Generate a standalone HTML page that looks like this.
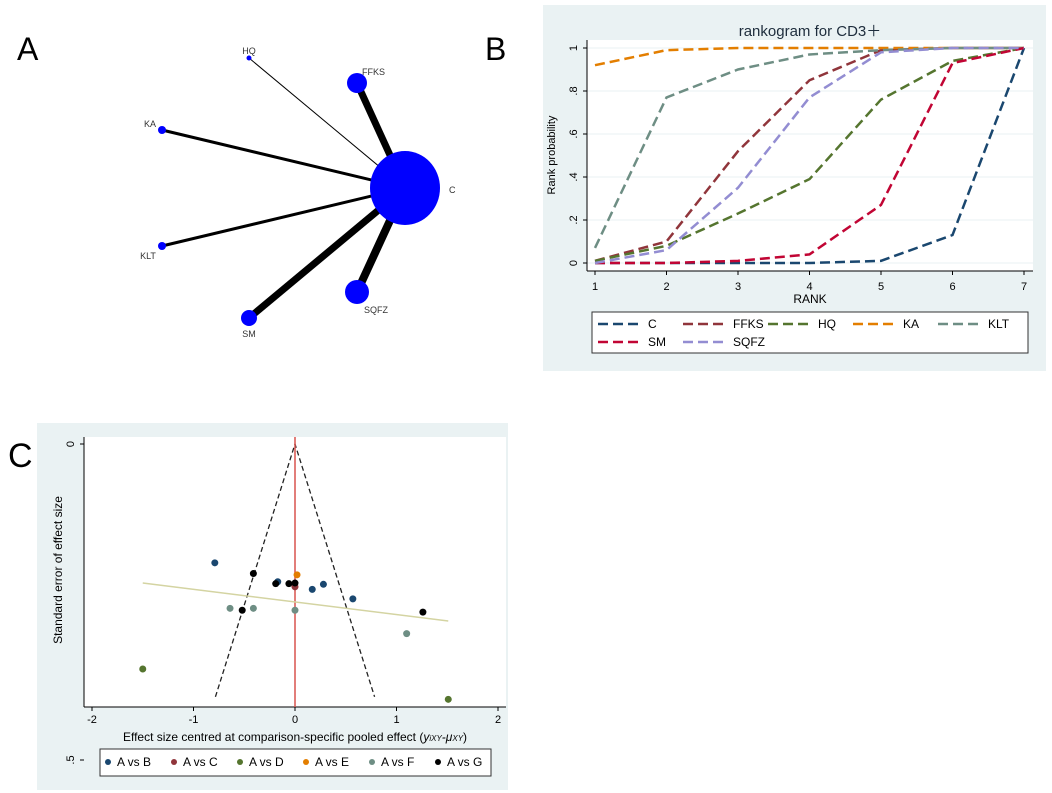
<!DOCTYPE html>
<html><head><meta charset="utf-8"><style>
body{margin:0;background:#fff;font-family:"Liberation Sans",sans-serif;}
svg{display:block}
</style></head><body>
<svg id="s" width="1052" height="793" xmlns="http://www.w3.org/2000/svg" font-family="Liberation Sans, sans-serif">
<text x="17" y="60" font-size="32">A</text>
<text x="485" y="60" font-size="32">B</text>
<text x="8" y="467" font-size="34">C</text>
<g id="net"></g>
<rect x="543" y="5" width="503" height="366" fill="#eaf2f3"/>
<rect x="587" y="40" width="446" height="231" fill="#fff"/>
<text x="810" y="36" font-size="15" text-anchor="middle" fill="#1e2d3c">rankogram for CD3＋</text>
<text x="810" y="303" font-size="12" text-anchor="middle">RANK</text>
<text transform="translate(555,155) rotate(-90)" font-size="11" text-anchor="middle">Rank probability</text>
<g id="rk"></g>
<rect x="592" y="312" width="436" height="41" fill="#fff" stroke="#333"/>
<g id="rl"></g>
<rect x="37" y="423" width="471" height="367" fill="#eaf2f3"/>
<rect x="84" y="437" width="422" height="270" fill="#fff"/>
<text x="295" y="741" font-size="12" text-anchor="middle">Effect size centred at comparison-specific pooled effect (<tspan font-style="italic">y<tspan font-size="8">iXY</tspan>-μ<tspan font-size="8">XY</tspan></tspan>)</text>
<text transform="translate(62,570) rotate(-90)" font-size="12" text-anchor="middle">Standard error of effect size</text>
<g id="fn"></g>
<rect x="100" y="749" width="391" height="27" fill="#fff" stroke="#333"/>
<g id="fl"></g>
</svg>
<script>
const NS="http://www.w3.org/2000/svg";
function mk(p,t,a){const e=document.createElementNS(NS,t);for(const k in a)e.setAttribute(k,a[k]);p.appendChild(e);return e;}
// Network
const nodeNames=["C","HQ","FFKS","KA","KLT","SM","SQFZ"];
const nodeX=[405,249,357,162,162,249,357];
const nodeY=[188,58,83,130,246,318,292];
const nodeR=[35,2.5,10,4,4,8,12];
const edgeW=[0,1,7,3,3,7,8];
const net=document.getElementById('net');
const lblOff=[[44,5,'start'],[0,-4,'middle'],[5,-8,'start'],[-12,-3,'middle'],[-14,13,'middle'],[0,19,'middle'],[7,21,'start']];
for(let i=1;i<7;i++){const l=mk(net,'line',{x1:nodeX[0],y1:nodeY[0],x2:nodeX[i],y2:nodeY[i],stroke:'#000','stroke-width':edgeW[i]});

}
for(let i=0;i<7;i++){const c=mk(net,'ellipse',{cx:nodeX[i],cy:nodeY[i],rx:nodeR[i],ry:i==0?nodeR[i]+2:nodeR[i],fill:'#0000ff'});


const t=mk(net,'text',{x:nodeX[i]+lblOff[i][0],y:nodeY[i]+lblOff[i][1],'font-size':9,'text-anchor':lblOff[i][2],fill:'#333'});t.textContent=nodeNames[i];

}
// Rankogram
const ranks=[1,2,3,4,5,6,7];
const rkNames=["C","FFKS","HQ","KA","KLT","SM","SQFZ"];
const rkC=[0,0,0,0,0.01,0.13,1];
const rkFFKS=[0.01,0.1,0.52,0.85,0.99,1,1];
const rkHQ=[0.01,0.08,0.23,0.39,0.76,0.94,1];
const rkKA=[0.92,0.99,1,1,1,1,1];
const rkKLT=[0.07,0.77,0.9,0.97,0.99,1,1];
const rkSM=[0,0,0.01,0.04,0.27,0.93,1];
const rkSQFZ=[0,0.06,0.35,0.77,0.98,1,1];
const rkSeries=[rkC,rkFFKS,rkHQ,rkKA,rkKLT,rkSM,rkSQFZ];
const rkCol=["#1a476f","#90353b","#55752f","#e37e00","#6e8e84","#c10534","#938dd2"];
const yTicks=[0,0.2,0.4,0.6,0.8,1];
const yTickLbl=["0",".2",".4",".6",".8","1"];
const rx=v=>595+(v-1)*(1024-595)/6, ry=v=>263-v*215;
const rk=document.getElementById('rk');
yTicks.forEach((v,i)=>{mk(rk,'line',{x1:587,x2:1033,y1:ry(v),y2:ry(v),stroke:'#eaf2f3','stroke-width':1});
mk(rk,'line',{x1:583,x2:587,y1:ry(v),y2:ry(v),stroke:'#000'});
const t=mk(rk,'text',{transform:`translate(577,${ry(v)}) rotate(-90)`,'font-size':11,'text-anchor':'middle'});t.textContent=yTickLbl[i];

});
mk(rk,'line',{x1:587,x2:587,y1:40,y2:271,stroke:'#000'});
mk(rk,'line',{x1:587,x2:1033,y1:271,y2:271,stroke:'#000'});
ranks.forEach(r=>{mk(rk,'line',{x1:rx(r),x2:rx(r),y1:271,y2:275,stroke:'#000'});
const t=mk(rk,'text',{x:rx(r),y:290,'font-size':11,'text-anchor':'middle'});t.textContent=r;

});
rkSeries.forEach((s,i)=>{const p=mk(rk,'polyline',{points:s.map((v,j)=>rx(ranks[j])+','+ry(v)).join(' '),fill:'none',stroke:rkCol[i],'stroke-width':2.5,'stroke-dasharray':'10 5'});

});
const rl=document.getElementById('rl');
rkNames.forEach((n,i)=>{const col=i%5,row=Math.floor(i/5);const x=598+col*85,y=324+row*18;
mk(rl,'line',{x1:x,x2:x+40,y1:y,y2:y,stroke:rkCol[i],'stroke-width':2.5,'stroke-dasharray':'10 5'});
const t=mk(rl,'text',{x:x+50,y:y+4,'font-size':12});t.textContent=n;

});
// Funnel
const groups=["A vs B","A vs C","A vs D","A vs E","A vs F","A vs G"];
const gCol=["#1a476f","#90353b","#55752f","#e37e00","#6e8e84","#000000"];
const effB=[-0.79,-0.17,0.17,0.28,0.57], seB=[0.188,0.218,0.23,0.222,0.245];
const effC=[0.0], seC=[0.226];
const effD=[-1.5,1.51], seD=[0.356,0.404];
const effE=[0.02], seE=[0.207];
const effF=[-0.64,-0.41,0.0,1.1], seF=[0.26,0.26,0.263,0.3];
const effG=[-0.41,-0.19,-0.06,0.0,-0.52,1.26], seG=[0.205,0.221,0.221,0.22,0.263,0.266];
const effs=[effB,effC,effD,effE,effF,effG], ses=[seB,seC,seD,seE,seF,seG];
const xTicks=[-2,-1,0,1,2];
const fitX=[-1.5,1.51], fitY=[0.22,0.28];
const fx=v=>295+v*101.5, fy=v=>444+v*632;
const fn=document.getElementById('fn');
mk(fn,'line',{x1:84,x2:84,y1:437,y2:707,stroke:'#000'});
mk(fn,'line',{x1:84,x2:506,y1:707,y2:707,stroke:'#000'});
mk(fn,'line',{x1:80,x2:84,y1:fy(0),y2:fy(0),stroke:'#000'});
let t0=mk(fn,'text',{transform:`translate(74,${fy(0)}) rotate(-90)`,'font-size':11,'text-anchor':'middle'});t0.textContent="0";
mk(fn,'line',{x1:80,x2:84,y1:fy(0.5),y2:fy(0.5),stroke:'#000'});
let t5=mk(fn,'text',{transform:`translate(74,${fy(0.5)}) rotate(-90)`,'font-size':11,'text-anchor':'middle'});t5.textContent=".5";
xTicks.forEach(v=>{mk(fn,'line',{x1:fx(v),x2:fx(v),y1:707,y2:711,stroke:'#000'});
const t=mk(fn,'text',{x:fx(v),y:723,'font-size':11,'text-anchor':'middle'});t.textContent=v;

});
mk(fn,'polyline',{points:`${fx(-1.96*0.4)},${fy(0.4)} ${fx(0)},${fy(0)} ${fx(1.96*0.4)},${fy(0.4)}`,fill:'none',stroke:'#222','stroke-width':1.3,'stroke-dasharray':'5 3'});
mk(fn,'line',{x1:fx(0),x2:fx(0),y1:437,y2:707,stroke:'#d9534f','stroke-width':1.5});
const fl=mk(fn,'line',{x1:fx(fitX[0]),x2:fx(fitX[1]),y1:fy(fitY[0]),y2:fy(fitY[1]),stroke:'#d4d4a2','stroke-width':1.5});


effs.forEach((arr,g)=>arr.forEach((v,j)=>{const c=mk(fn,'circle',{cx:fx(v),cy:fy(ses[g][j]),r:3.5,fill:gCol[g]});

}));
const flg=document.getElementById('fl');
groups.forEach((n,i)=>{const x=108+i*66;mk(flg,'circle',{cx:x,cy:762,r:3,fill:gCol[i]});
const t=mk(flg,'text',{x:x+9,y:766,'font-size':12});t.textContent=n;

});
</script>
</body></html>
